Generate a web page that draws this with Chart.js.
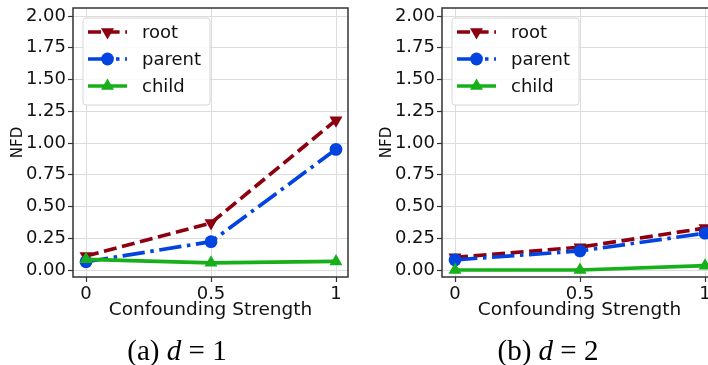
<!DOCTYPE html>
<html><head><meta charset="utf-8">
<script src="https://cdn.jsdelivr.net/npm/chart.js@4/dist/chart.umd.min.js"></script>
<style>
html,body{margin:0;padding:0;width:708px;height:365px;overflow:hidden;background:#fff;}
.fig{position:absolute;top:0;width:369px;height:365px;}
canvas{position:absolute;left:0;top:0;}
.cap{position:absolute;top:333px;line-height:34px;text-align:center;font-family:"Liberation Serif","DejaVu Serif",serif;font-size:29px;color:#000;white-space:nowrap;}
</style></head>
<body>
<div class="fig" style="left:0"><canvas id="c1" width="369" height="365"></canvas><div class="cap" id="cap1" style="left:0;width:354px"></div></div>
<div class="fig" style="left:369px"><canvas id="c2" width="369" height="365"></canvas><div class="cap" id="cap2" style="left:0;width:358px"></div></div>
<script>
// ---- data ----
const xValues = [0, 0.5, 1];
const xTickLabels = ['0', '0.5', '1'];
const yTickValues = [0, 0.25, 0.5, 0.75, 1, 1.25, 1.5, 1.75, 2];
const seriesNames = ['root', 'parent', 'child'];
const rootD1 = [0.11, 0.37, 1.18];
const parentD1 = [0.065, 0.223, 0.95];
const childD1 = [0.084, 0.057, 0.068];
const rootD2 = [0.10, 0.18, 0.33];
const parentD2 = [0.08, 0.15, 0.29];
const childD2 = [0.0, 0.0, 0.034];
const xTitle = 'Confounding Strength';
const yTitle = 'NFD';
const captionLabels = ['(a)', '(b)'];
const captionD = ['1', '2'];

// ---- styles ----
const seriesStyles = [
  {color: '#8c000f', dash: [13, 5.6], pointStyle: 'triangle', rotation: 180, radius: 7.5, order: 2},
  {color: '#0343df', dash: [22.4, 5.6, 3.5, 5.6], pointStyle: 'circle', rotation: 0, radius: 6.4, order: 1},
  {color: '#15b01a', dash: [], pointStyle: 'triangle', rotation: 0, radius: 7.5, order: 0}
];

Chart.defaults.font.family = "'DejaVu Sans', sans-serif";
Chart.defaults.color = '#111';

function makeDatasets(series) {
  return series.map((vals, i) => {
    const s = seriesStyles[i];
    return {
      label: seriesNames[i],
      data: xValues.map((x, j) => ({x: x, y: vals[j]})),
      borderColor: s.color,
      backgroundColor: s.color,
      borderWidth: 3.7,
      borderDash: s.dash,
      pointStyle: s.pointStyle,
      pointRotation: s.rotation,
      pointRadius: s.radius,
      pointBorderWidth: 0,
      pointBackgroundColor: s.color,
      pointBorderColor: s.color,
      tension: 0,
      fill: false,
      order: s.order
    };
  });
}

const frameLegend = {
  id: 'frameLegend',
  afterDraw(chart) {
    const {ctx, chartArea: a} = chart;
    ctx.save();
    ctx.setLineDash([]);
    ctx.strokeStyle = '#333';
    ctx.lineWidth = 1.5;
    ctx.strokeRect(a.left, a.top, a.right - a.left, a.bottom - a.top);
    // legend box
    const bx = a.left + 10, by = a.top + 10, bw = 127, bh = 87, r = 3;
    ctx.beginPath();
    ctx.moveTo(bx + r, by);
    ctx.arcTo(bx + bw, by, bx + bw, by + bh, r);
    ctx.arcTo(bx + bw, by + bh, bx, by + bh, r);
    ctx.arcTo(bx, by + bh, bx, by, r);
    ctx.arcTo(bx, by, bx + bw, by, r);
    ctx.closePath();
    ctx.fillStyle = 'rgba(255,255,255,0.85)';
    ctx.fill();
    ctx.strokeStyle = '#d6d6d6';
    ctx.lineWidth = 1;
    ctx.stroke();
    chart.data.datasets.forEach((ds, i) => {
      const cy = by + 14 + 27 * i;
      ctx.beginPath();
      ctx.setLineDash(ds.borderDash || []);
      ctx.strokeStyle = ds.borderColor;
      ctx.lineWidth = ds.borderWidth;
      ctx.moveTo(bx + 5, cy);
      ctx.lineTo(bx + 44, cy);
      ctx.stroke();
      ctx.setLineDash([]);
      ctx.fillStyle = ds.pointBackgroundColor;
      Chart.helpers.drawPoint(ctx, {pointStyle: ds.pointStyle, rotation: ds.pointRotation, radius: ds.pointRadius, borderWidth: 0}, bx + 24.5, cy);
      ctx.fillStyle = '#111';
      ctx.font = "18px 'DejaVu Sans', sans-serif";
      ctx.textBaseline = 'middle';
      ctx.textAlign = 'left';
      ctx.fillText(ds.label, bx + 59, cy + 1);
    });
    ctx.restore();
  }
};

function makeChart(id, series) {
  return new Chart(document.getElementById(id), {
    type: 'line',
    data: {datasets: makeDatasets(series)},
    options: {
      responsive: false,
      animation: false,
      devicePixelRatio: 1,
      layout: {padding: {left: 0, top: 8, right: 21, bottom: 44}},
      plugins: {legend: {display: false}, tooltip: {enabled: false}},
      scales: {
        x: {
          type: 'linear', min: -0.052, max: 1.048,
          afterBuildTicks: s => { s.ticks = xValues.map(v => ({value: v})); },
          afterFit: s => { s.height = 44; s.paddingLeft = 0; s.paddingRight = 0; },
          ticks: {autoSkip: false, maxRotation: 0, padding: 2, font: {size: 18},
                  callback: v => xTickLabels[xValues.indexOf(v)]},
          grid: {color: '#dcdcdc', lineWidth: 1, tickLength: 5, tickColor: '#333', tickWidth: 1.2},
          border: {display: false},
          title: {display: true, text: xTitle, font: {size: 18.5}, color: '#111', padding: {top: 0, bottom: 0}}
        },
        y: {
          type: 'linear', min: -0.055, max: 2.063,
          afterBuildTicks: s => { s.ticks = yTickValues.map(v => ({value: v})); },
          afterFit: s => { s.width = 73; s.paddingTop = 0; s.paddingBottom = 0; },
          ticks: {autoSkip: false, padding: 2, font: {size: 18}, callback: v => v.toFixed(2)},
          grid: {color: '#dcdcdc', lineWidth: 1, tickLength: 5, tickColor: '#333', tickWidth: 1.2},
          border: {display: false},
          title: {display: true, text: yTitle, font: {size: 15}, color: '#111', padding: {top: 9, bottom: 0}}
        }
      }
    },
    plugins: [frameLegend]
  });
}

makeChart('c1', [rootD1, parentD1, childD1]);
makeChart('c2', [rootD2, parentD2, childD2]);

['cap1', 'cap2'].forEach((id, i) => {
  document.getElementById(id).innerHTML = captionLabels[i] + ' <i>d</i>&nbsp;=&nbsp;' + captionD[i];
});
</script>
</body></html>
